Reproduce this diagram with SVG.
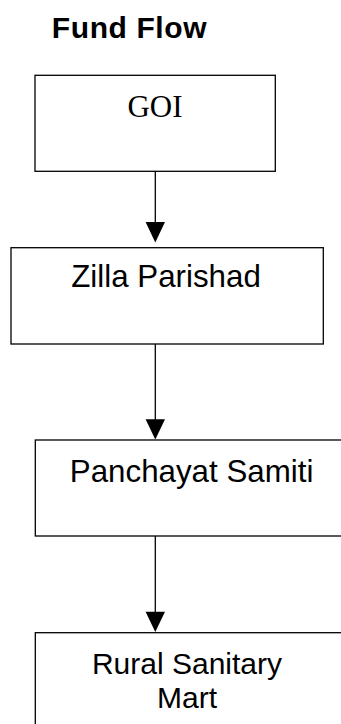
<svg xmlns="http://www.w3.org/2000/svg" width="341" height="724" viewBox="0 0 341 724">
<style>
.box{fill:#fff;stroke:#000;stroke-width:1.3}
.sans{font-family:"Liberation Sans",Arial,sans-serif;fill:#000;text-anchor:middle}
.serif{font-family:"Liberation Serif","Times New Roman",serif;fill:#000;text-anchor:middle}
.conn{stroke:#000;stroke-width:1.3;fill:none}
.head{fill:#000;stroke:none}
</style>
<rect width="341" height="724" fill="#fff"/>
<text x="129.5" y="37.7" class="sans" font-size="30" font-weight="bold" letter-spacing="0.6">Fund Flow</text>
<g id="goi">
<rect class="box" x="35" y="75.3" width="240.3" height="96"/>
<text x="155" y="117.3" class="serif" font-size="31">GOI</text>
</g>
<g id="zilla">
<rect class="box" x="11" y="247.7" width="312.3" height="96.3"/>
<text x="166" y="287" class="sans" font-size="31.3">Zilla Parishad</text>
</g>
<g id="panchayat">
<rect class="box" x="35.3" y="440" width="320" height="96"/>
<text x="191.6" y="481.7" class="sans" font-size="31.3">Panchayat Samiti</text>
</g>
<g id="rural">
<rect class="box" x="35.3" y="632.7" width="320" height="120"/>
<text x="187" y="673.5" class="sans" font-size="30">Rural Sanitary</text>
<text x="187" y="707.5" class="sans" font-size="30">Mart</text>
</g>
<g id="connectors">
<line class="conn" x1="155.3" y1="171.3" x2="155.3" y2="224"/>
<polygon class="head" points="145.6,222 165,222 155.3,242.5"/>
<line class="conn" x1="155.3" y1="344" x2="155.3" y2="421"/>
<polygon class="head" points="145.6,419.3 165,419.3 155.3,439.5"/>
<line class="conn" x1="155.3" y1="536" x2="155.3" y2="613"/>
<polygon class="head" points="145.6,611.7 165,611.7 155.3,632"/>
</g>
</svg>
